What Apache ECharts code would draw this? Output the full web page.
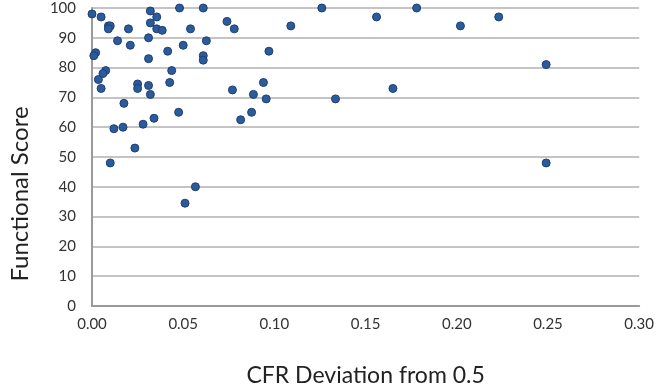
<!DOCTYPE html>
<html>
<head>
<meta charset="utf-8">
<script src="https://cdn.jsdelivr.net/npm/echarts@6/dist/echarts.min.js"></script>
<style>
  html, body { margin: 0; padding: 0; background: #fff; }
  #chart { width: 657px; height: 392px; }
</style>
</head>
<body>
<div id="chart"></div>
<script>
// CFR deviation (x) and functional score (y)
const cfrDeviation = [
  0.000, 0.005, 0.009, 0.010, 0.009, 0.020, 0.014, 0.021, 0.002, 0.001,
  0.0075, 0.006, 0.0035, 0.005, 0.0175, 0.012, 0.017, 0.0235, 0.025, 0.025,
  0.028, 0.031, 0.032, 0.034, 0.031, 0.031, 0.032, 0.032, 0.0355, 0.0355,
  0.0385, 0.0415, 0.0437, 0.0426, 0.0475, 0.048, 0.050, 0.054, 0.061, 0.0627,
  0.061, 0.061, 0.074, 0.078, 0.077, 0.0815, 0.0875, 0.0885, 0.094, 0.0955,
  0.097, 0.109, 0.126, 0.1335, 0.156, 0.165, 0.178, 0.202, 0.223, 0.249,
  0.249, 0.010, 0.0567, 0.051
]
const functionalScore = [
  98, 97, 94, 94, 93, 93, 89, 87.5, 85, 84,
  79, 78, 76, 73, 68, 59.5, 60, 53, 74.5, 73,
  61, 74, 71, 63, 83, 90, 99, 95, 97, 93,
  92.5, 85.5, 79, 75, 65, 100, 87.5, 93, 100, 89,
  84, 82.5, 95.5, 93, 72.5, 62.5, 65, 71, 75, 69.5,
  85.5, 94, 100, 69.5, 97, 73, 100, 94, 97, 81,
  48, 48, 40, 34.5
]
const xTicks = ['0.00', '0.05', '0.10', '0.15', '0.20', '0.25', '0.30']

const points = cfrDeviation.map((x, i) => [x, functionalScore[i]])

const chart = echarts.init(document.getElementById('chart'))
chart.setOption({
  animation: false,
  textStyle: { fontFamily: 'Lato' },
  grid: {
    left: 89,
    right: 17,
    top: 8,
    bottom: 84,
    containLabel: false
  },
  xAxis: {
    type: 'value',
    min: 0,
    max: 0.3,
    interval: 0.05,
    name: 'CFR Deviation from 0.5',
    nameLocation: 'middle',
    nameGap: 58,
    nameTextStyle: { fontSize: 23, color: '#222' },
    axisLine: { show: true, lineStyle: { color: '#9a9a9a', width: 2 } },
    axisTick: { show: false },
    splitLine: { show: false },
    axisLabel: {
      margin: 11,
      fontSize: 15,
      color: '#333',
      formatter: (v) => xTicks[Math.round(v / 0.05)]
    }
  },
  yAxis: {
    type: 'value',
    min: 0,
    max: 100,
    interval: 10,
    name: 'Functional Score',
    nameLocation: 'middle',
    nameGap: 60,
    // title sits a bit below the plot's centre in the original
    nameTextStyle: { fontSize: 24, color: '#222', padding: [0, 74, 0, 0] },
    axisLine: { show: true, lineStyle: { color: '#9a9a9a', width: 2 } },
    axisTick: { show: false },
    splitLine: { show: true, lineStyle: { color: '#c4c4c4', width: 2 } },
    axisLabel: { margin: 16, fontSize: 15, color: '#333' }
  },
  series: [{
    type: 'scatter',
    data: points,
    symbol: 'circle',
    symbolSize: 8,
    itemStyle: {
      color: '#2c5b9c',
      borderColor: '#1d3f74',
      borderWidth: 1,
      opacity: 1
    }
  }]
})
</script>
</body>
</html>
